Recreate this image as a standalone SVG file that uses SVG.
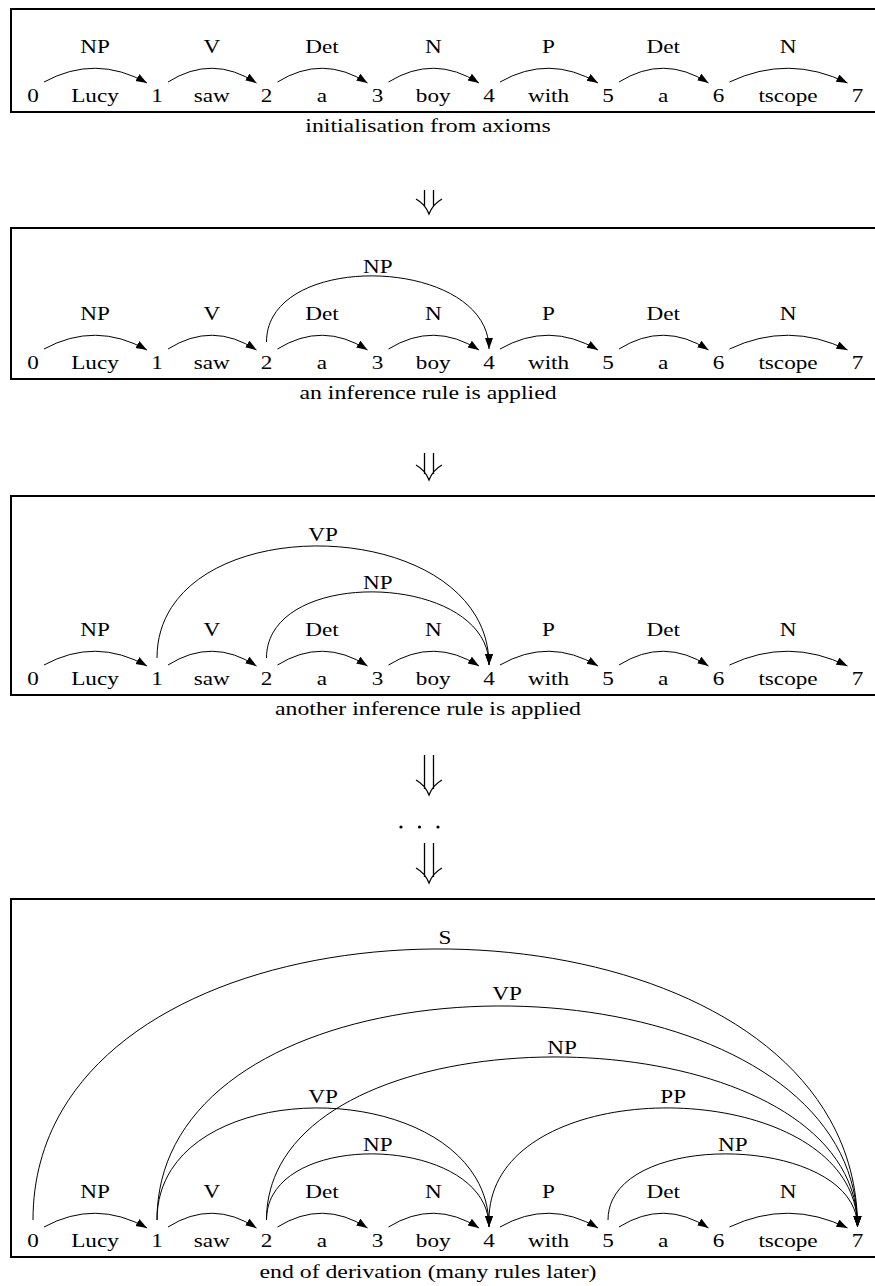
<svg xmlns="http://www.w3.org/2000/svg" width="875" height="1286" viewBox="0 0 875 1286" font-family="'Liberation Serif', 'DejaVu Serif', serif">
<style>
text{font-family:'Liberation Serif','DejaVu Serif',serif;font-size:19px;text-anchor:middle;fill:#000}
.box{fill:none;stroke:#000;stroke-width:2}
.arc{fill:none;stroke:#000;stroke-width:1}
.step{fill:none;stroke:#000;stroke-width:1.3}
</style>
<defs>
<marker id="ah" markerUnits="userSpaceOnUse" markerWidth="12" markerHeight="9" refX="11" refY="4" orient="auto">
<path d="M0,0 L11,4 L0,8 Z" fill="#000"/>
</marker>
</defs>
<rect width="875" height="1286" fill="#fff"/>

<!-- Panel 1 -->
<g id="panel1">
<rect class="box" x="11" y="9" width="880" height="103"/>
<g id="p1-nodes">
<g id="p1-n0"><text transform="translate(33 102) scale(1.22 1)">0</text></g>
<g id="p1-n1"><text transform="translate(157 102) scale(1.22 1)">1</text></g>
<g id="p1-n2"><text transform="translate(266.5 102) scale(1.22 1)">2</text></g>
<g id="p1-n3"><text transform="translate(377.5 102) scale(1.22 1)">3</text></g>
<g id="p1-n4"><text transform="translate(489 102) scale(1.22 1)">4</text></g>
<g id="p1-n5"><text transform="translate(608 102) scale(1.22 1)">5</text></g>
<g id="p1-n6"><text transform="translate(718.5 102) scale(1.22 1)">6</text></g>
<g id="p1-n7"><text transform="translate(857.5 102) scale(1.22 1)">7</text></g>
</g>
<g id="p1-words">
<text transform="translate(95 102) scale(1.22 1)">Lucy</text>
<text transform="translate(211.75 102) scale(1.22 1)">saw</text>
<text transform="translate(322 102) scale(1.22 1)">a</text>
<text transform="translate(433.25 102) scale(1.22 1)">boy</text>
<text transform="translate(548.5 102) scale(1.22 1)">with</text>
<text transform="translate(663.25 102) scale(1.22 1)">a</text>
<text transform="translate(788 102) scale(1.22 1)">tscope</text>
</g>
<g id="p1-connectors">
<path class="arc" marker-end="url(#ah)" d="M44 82 Q95.5 54 147 83"/>
<path class="arc" marker-end="url(#ah)" d="M168 82 Q212.25 54 256.5 83"/>
<path class="arc" marker-end="url(#ah)" d="M277.5 82 Q322.5 54 367.5 83"/>
<path class="arc" marker-end="url(#ah)" d="M388.5 82 Q433.75 54 479 83"/>
<path class="arc" marker-end="url(#ah)" d="M500 82 Q549 54 598 83"/>
<path class="arc" marker-end="url(#ah)" d="M619 82 Q663.75 54 708.5 83"/>
<path class="arc" marker-end="url(#ah)" d="M729.5 82 Q788.5 54 847.5 83"/>
</g>
<g id="p1-labels">
<text transform="translate(95 53) scale(1.22 1)">NP</text>
<text transform="translate(211.75 53) scale(1.22 1)">V</text>
<text transform="translate(322 53) scale(1.22 1)">Det</text>
<text transform="translate(433.25 53) scale(1.22 1)">N</text>
<text transform="translate(548.5 53) scale(1.22 1)">P</text>
<text transform="translate(663.25 53) scale(1.22 1)">Det</text>
<text transform="translate(788 53) scale(1.22 1)">N</text>
</g>
<text transform="translate(428 132) scale(1.25 1)">initialisation from axioms</text>
</g>

<g id="step1">
<path class="step" d="M424.5 190 V207 M433.5 190 V207 M416 199 Q425 204 429 214 Q433 204 442 199"/>
</g>

<!-- Panel 2 -->
<g id="panel2">
<rect class="box" x="11" y="228" width="880" height="151"/>
<g id="p2-nodes">
<g id="p2-n0"><text transform="translate(33 369) scale(1.22 1)">0</text></g>
<g id="p2-n1"><text transform="translate(157 369) scale(1.22 1)">1</text></g>
<g id="p2-n2"><text transform="translate(266.5 369) scale(1.22 1)">2</text></g>
<g id="p2-n3"><text transform="translate(377.5 369) scale(1.22 1)">3</text></g>
<g id="p2-n4"><text transform="translate(489 369) scale(1.22 1)">4</text></g>
<g id="p2-n5"><text transform="translate(608 369) scale(1.22 1)">5</text></g>
<g id="p2-n6"><text transform="translate(718.5 369) scale(1.22 1)">6</text></g>
<g id="p2-n7"><text transform="translate(857.5 369) scale(1.22 1)">7</text></g>
</g>
<g id="p2-words">
<text transform="translate(95 369) scale(1.22 1)">Lucy</text>
<text transform="translate(211.75 369) scale(1.22 1)">saw</text>
<text transform="translate(322 369) scale(1.22 1)">a</text>
<text transform="translate(433.25 369) scale(1.22 1)">boy</text>
<text transform="translate(548.5 369) scale(1.22 1)">with</text>
<text transform="translate(663.25 369) scale(1.22 1)">a</text>
<text transform="translate(788 369) scale(1.22 1)">tscope</text>
</g>
<g id="p2-connectors">
<path class="arc" marker-end="url(#ah)" d="M44 349 Q95.5 321 147 350"/>
<path class="arc" marker-end="url(#ah)" d="M168 349 Q212.25 321 256.5 350"/>
<path class="arc" marker-end="url(#ah)" d="M277.5 349 Q322.5 321 367.5 350"/>
<path class="arc" marker-end="url(#ah)" d="M388.5 349 Q433.75 321 479 350"/>
<path class="arc" marker-end="url(#ah)" d="M500 349 Q549 321 598 350"/>
<path class="arc" marker-end="url(#ah)" d="M619 349 Q663.75 321 708.5 350"/>
<path class="arc" marker-end="url(#ah)" d="M729.5 349 Q788.5 321 847.5 350"/>
<path class="arc" marker-end="url(#ah)" d="M266.5 342 C266.5 249.3 489 256.3 489 349"/>
</g>
<g id="p2-labels">
<text transform="translate(95 320) scale(1.22 1)">NP</text>
<text transform="translate(211.75 320) scale(1.22 1)">V</text>
<text transform="translate(322 320) scale(1.22 1)">Det</text>
<text transform="translate(433.25 320) scale(1.22 1)">N</text>
<text transform="translate(548.5 320) scale(1.22 1)">P</text>
<text transform="translate(663.25 320) scale(1.22 1)">Det</text>
<text transform="translate(788 320) scale(1.22 1)">N</text>
<text transform="translate(377.75 273) scale(1.22 1)">NP</text>
</g>
<text transform="translate(428 399) scale(1.25 1)">an inference rule is applied</text>
</g>

<g id="step2">
<path class="step" d="M424.5 453 V474 M433.5 453 V474 M416 465 Q425 470 429 480 Q433 470 442 465"/>
</g>

<!-- Panel 3 -->
<g id="panel3">
<rect class="box" x="11" y="496" width="880" height="199"/>
<g id="p3-nodes">
<g id="p3-n0"><text transform="translate(33 685) scale(1.22 1)">0</text></g>
<g id="p3-n1"><text transform="translate(157 685) scale(1.22 1)">1</text></g>
<g id="p3-n2"><text transform="translate(266.5 685) scale(1.22 1)">2</text></g>
<g id="p3-n3"><text transform="translate(377.5 685) scale(1.22 1)">3</text></g>
<g id="p3-n4"><text transform="translate(489 685) scale(1.22 1)">4</text></g>
<g id="p3-n5"><text transform="translate(608 685) scale(1.22 1)">5</text></g>
<g id="p3-n6"><text transform="translate(718.5 685) scale(1.22 1)">6</text></g>
<g id="p3-n7"><text transform="translate(857.5 685) scale(1.22 1)">7</text></g>
</g>
<g id="p3-words">
<text transform="translate(95 685) scale(1.22 1)">Lucy</text>
<text transform="translate(211.75 685) scale(1.22 1)">saw</text>
<text transform="translate(322 685) scale(1.22 1)">a</text>
<text transform="translate(433.25 685) scale(1.22 1)">boy</text>
<text transform="translate(548.5 685) scale(1.22 1)">with</text>
<text transform="translate(663.25 685) scale(1.22 1)">a</text>
<text transform="translate(788 685) scale(1.22 1)">tscope</text>
</g>
<g id="p3-connectors">
<path class="arc" marker-end="url(#ah)" d="M44 665 Q95.5 637 147 666"/>
<path class="arc" marker-end="url(#ah)" d="M168 665 Q212.25 637 256.5 666"/>
<path class="arc" marker-end="url(#ah)" d="M277.5 665 Q322.5 637 367.5 666"/>
<path class="arc" marker-end="url(#ah)" d="M388.5 665 Q433.75 637 479 666"/>
<path class="arc" marker-end="url(#ah)" d="M500 665 Q549 637 598 666"/>
<path class="arc" marker-end="url(#ah)" d="M619 665 Q663.75 637 708.5 666"/>
<path class="arc" marker-end="url(#ah)" d="M729.5 665 Q788.5 637 847.5 666"/>
<path class="arc" marker-end="url(#ah)" d="M266.5 658 C266.5 565.3 489 572.3 489 665"/>
<path class="arc" marker-end="url(#ah)" d="M157 658 C157 504 489 511 489 665"/>
</g>
<g id="p3-labels">
<text transform="translate(95 636) scale(1.22 1)">NP</text>
<text transform="translate(211.75 636) scale(1.22 1)">V</text>
<text transform="translate(322 636) scale(1.22 1)">Det</text>
<text transform="translate(433.25 636) scale(1.22 1)">N</text>
<text transform="translate(548.5 636) scale(1.22 1)">P</text>
<text transform="translate(663.25 636) scale(1.22 1)">Det</text>
<text transform="translate(788 636) scale(1.22 1)">N</text>
<text transform="translate(377.75 589) scale(1.22 1)">NP</text>
<text transform="translate(323 541) scale(1.22 1)">VP</text>
</g>
<text transform="translate(428 715) scale(1.25 1)">another inference rule is applied</text>
</g>

<g id="step3">
<path class="step" d="M424.5 755 V789 M433.5 755 V789 M416 780 Q425 785 429 795 Q433 785 442 780"/>
<circle cx="401" cy="827" r="1.6"/>
<circle cx="419.5" cy="827" r="1.6"/>
<circle cx="438" cy="827" r="1.6"/>
<path class="step" d="M424.5 843 V877 M433.5 843 V877 M416 868 Q425 873 429 883 Q433 873 442 868"/>
</g>

<!-- Panel 4 -->
<g id="panel4">
<rect class="box" x="11" y="899" width="880" height="358"/>
<g id="p4-nodes">
<g id="p4-n0"><text transform="translate(33 1247) scale(1.22 1)">0</text></g>
<g id="p4-n1"><text transform="translate(157 1247) scale(1.22 1)">1</text></g>
<g id="p4-n2"><text transform="translate(266.5 1247) scale(1.22 1)">2</text></g>
<g id="p4-n3"><text transform="translate(377.5 1247) scale(1.22 1)">3</text></g>
<g id="p4-n4"><text transform="translate(489 1247) scale(1.22 1)">4</text></g>
<g id="p4-n5"><text transform="translate(608 1247) scale(1.22 1)">5</text></g>
<g id="p4-n6"><text transform="translate(718.5 1247) scale(1.22 1)">6</text></g>
<g id="p4-n7"><text transform="translate(857.5 1247) scale(1.22 1)">7</text></g>
</g>
<g id="p4-words">
<text transform="translate(95 1247) scale(1.22 1)">Lucy</text>
<text transform="translate(211.75 1247) scale(1.22 1)">saw</text>
<text transform="translate(322 1247) scale(1.22 1)">a</text>
<text transform="translate(433.25 1247) scale(1.22 1)">boy</text>
<text transform="translate(548.5 1247) scale(1.22 1)">with</text>
<text transform="translate(663.25 1247) scale(1.22 1)">a</text>
<text transform="translate(788 1247) scale(1.22 1)">tscope</text>
</g>
<g id="p4-connectors">
<path class="arc" marker-end="url(#ah)" d="M44 1227 Q95.5 1199 147 1228"/>
<path class="arc" marker-end="url(#ah)" d="M168 1227 Q212.25 1199 256.5 1228"/>
<path class="arc" marker-end="url(#ah)" d="M277.5 1227 Q322.5 1199 367.5 1228"/>
<path class="arc" marker-end="url(#ah)" d="M388.5 1227 Q433.75 1199 479 1228"/>
<path class="arc" marker-end="url(#ah)" d="M500 1227 Q549 1199 598 1228"/>
<path class="arc" marker-end="url(#ah)" d="M619 1227 Q663.75 1199 708.5 1228"/>
<path class="arc" marker-end="url(#ah)" d="M729.5 1227 Q788.5 1199 847.5 1228"/>
<path class="arc" marker-end="url(#ah)" d="M266.5 1220 C266.5 1127.3 489 1134.3 489 1227"/>
<path class="arc" marker-end="url(#ah)" d="M608 1220 C608 1127.3 857.5 1134.3 857.5 1227"/>
<path class="arc" marker-end="url(#ah)" d="M157 1220 C157 1066 489 1073 489 1227"/>
<path class="arc" marker-end="url(#ah)" d="M489 1220 C489 1066 857.5 1073 857.5 1227"/>
<path class="arc" marker-end="url(#ah)" d="M266.5 1220 C266.5 998 857.5 1005 857.5 1227"/>
<path class="arc" marker-end="url(#ah)" d="M157 1220 C157 930 857.5 937 857.5 1227"/>
<path class="arc" marker-end="url(#ah)" d="M33 1220 C33 854 857.5 861 857.5 1227"/>
</g>
<g id="p4-labels">
<text transform="translate(95 1198) scale(1.22 1)">NP</text>
<text transform="translate(211.75 1198) scale(1.22 1)">V</text>
<text transform="translate(322 1198) scale(1.22 1)">Det</text>
<text transform="translate(433.25 1198) scale(1.22 1)">N</text>
<text transform="translate(548.5 1198) scale(1.22 1)">P</text>
<text transform="translate(663.25 1198) scale(1.22 1)">Det</text>
<text transform="translate(788 1198) scale(1.22 1)">N</text>
<text transform="translate(377.75 1151) scale(1.22 1)">NP</text>
<text transform="translate(732.75 1151) scale(1.22 1)">NP</text>
<text transform="translate(323 1103) scale(1.22 1)">VP</text>
<text transform="translate(673.25 1103) scale(1.22 1)">PP</text>
<text transform="translate(562 1054) scale(1.22 1)">NP</text>
<text transform="translate(507 1000) scale(1.22 1)">VP</text>
<text transform="translate(445 944) scale(1.22 1)">S</text>
</g>
<text transform="translate(428 1278) scale(1.25 1)">end of derivation (many rules later)</text>
</g>
</svg>
